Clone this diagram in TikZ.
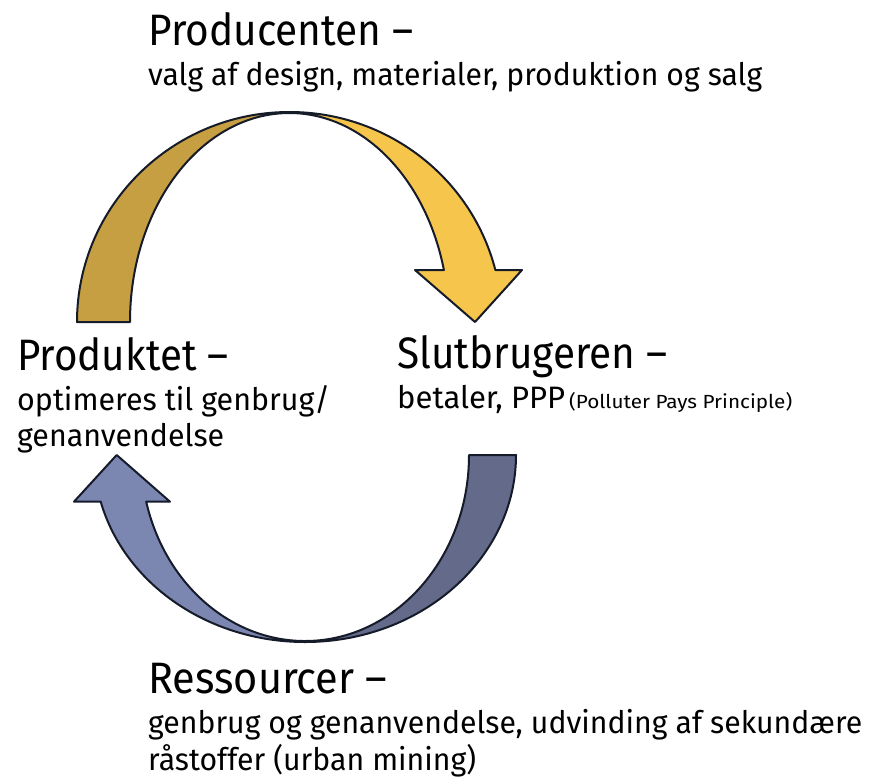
\documentclass[tikz,border=0pt]{standalone}
\usepackage{fontspec}
\setmainfont{Fira Sans}
\usepackage{graphicx}
\definecolor{golddark}{HTML}{C69F42}
\definecolor{goldlight}{HTML}{F6C54B}
\definecolor{bluefront}{HTML}{7B86B1}
\definecolor{blueback}{HTML}{636A8A}
\definecolor{outline}{HTML}{161B2A}
\newcommand\fitw[2]{\sbox0{#2}\pgfmathsetmacro\fwsx{#1/\the\wd0}\scalebox{\fwsx}[1]{\usebox0}}
\tikzset{
  band/.style={draw=outline, line width=2pt, line join=round},
  ttl/.style={anchor=base west, inner sep=0pt, font=\fontsize{44}{48}\selectfont},
  sub/.style={anchor=base west, inner sep=0pt, font=\fontsize{31}{36}\selectfont},
}
\begin{document}
\begin{tikzpicture}[x=1pt,y=1pt]
\useasboundingbox[fill=white] (0,0) rectangle (869,-777);
% top arrow
\draw[band, fill=golddark] (77,-322) arc[start angle=180, end angle=90, x radius=212.5, y radius=210]
  -- (289.5,-113) arc[start angle=90, end angle=180, x radius=159.5, y radius=209] -- cycle;
\draw[band, fill=goldlight] (289.5,-112) arc[start angle=90, end angle=14.34, x radius=212.5, y radius=210]
  -- (522,-270) -- (475,-322) -- (415,-270)
  -- (443.9,-270) arc[start angle=14.41, end angle=90, x radius=159.5, y radius=209] -- cycle;
% bottom arrow
\draw[band, fill=blueback] (516,-455) arc[start angle=0, end angle=-90, x radius=211, y radius=187]
  -- (305,-641) arc[start angle=-90, end angle=0, x radius=164, y radius=186] -- cycle;
\draw[band, fill=bluefront] (305,-642) arc[start angle=-90, end angle=-165.54, x radius=211, y radius=187]
  -- (74,-501.7) -- (116.7,-455) -- (170,-501.7)
  -- (146.2,-501.7) arc[start angle=-165.46, end angle=-90, x radius=164, y radius=186] -- cycle;
% texts
\node[ttl] (prodT) at (148,-45) {\fitw{265}{Producenten –}};
\node[sub] (prodS) at (148,-85) {\fitw{614}{valg af design, materialer, produktion og salg}};
\node[ttl] (pktT) at (17,-370) {\fitw{211}{Produktet –}};
\node[sub] (pktS1) at (17,-410) {\fitw{313}{optimeres til genbrug/}};
\node[sub] (pktS2) at (17,-446) {\fitw{207}{genanvendelse}};
\node[ttl] (slutT) at (397,-368) {\fitw{270}{Slutbrugeren –}};
\node[sub] (slutS) at (397,-408) {\fitw{168}{betaler, PPP}\hspace{4pt}\fitw{223}{\fontsize{19}{22}\selectfont(Polluter Pays Principle)}};
\node[ttl] (resT) at (148,-693) {\fitw{239}{Ressourcer –}};
\node[sub] (resS1) at (148,-733) {\fitw{714}{genbrug og genanvendelse, udvinding af sekundære}};
\node[sub] (resS2) at (148,-770) {\fitw{328}{råstoffer (urban mining)}};
\end{tikzpicture}
\end{document}
